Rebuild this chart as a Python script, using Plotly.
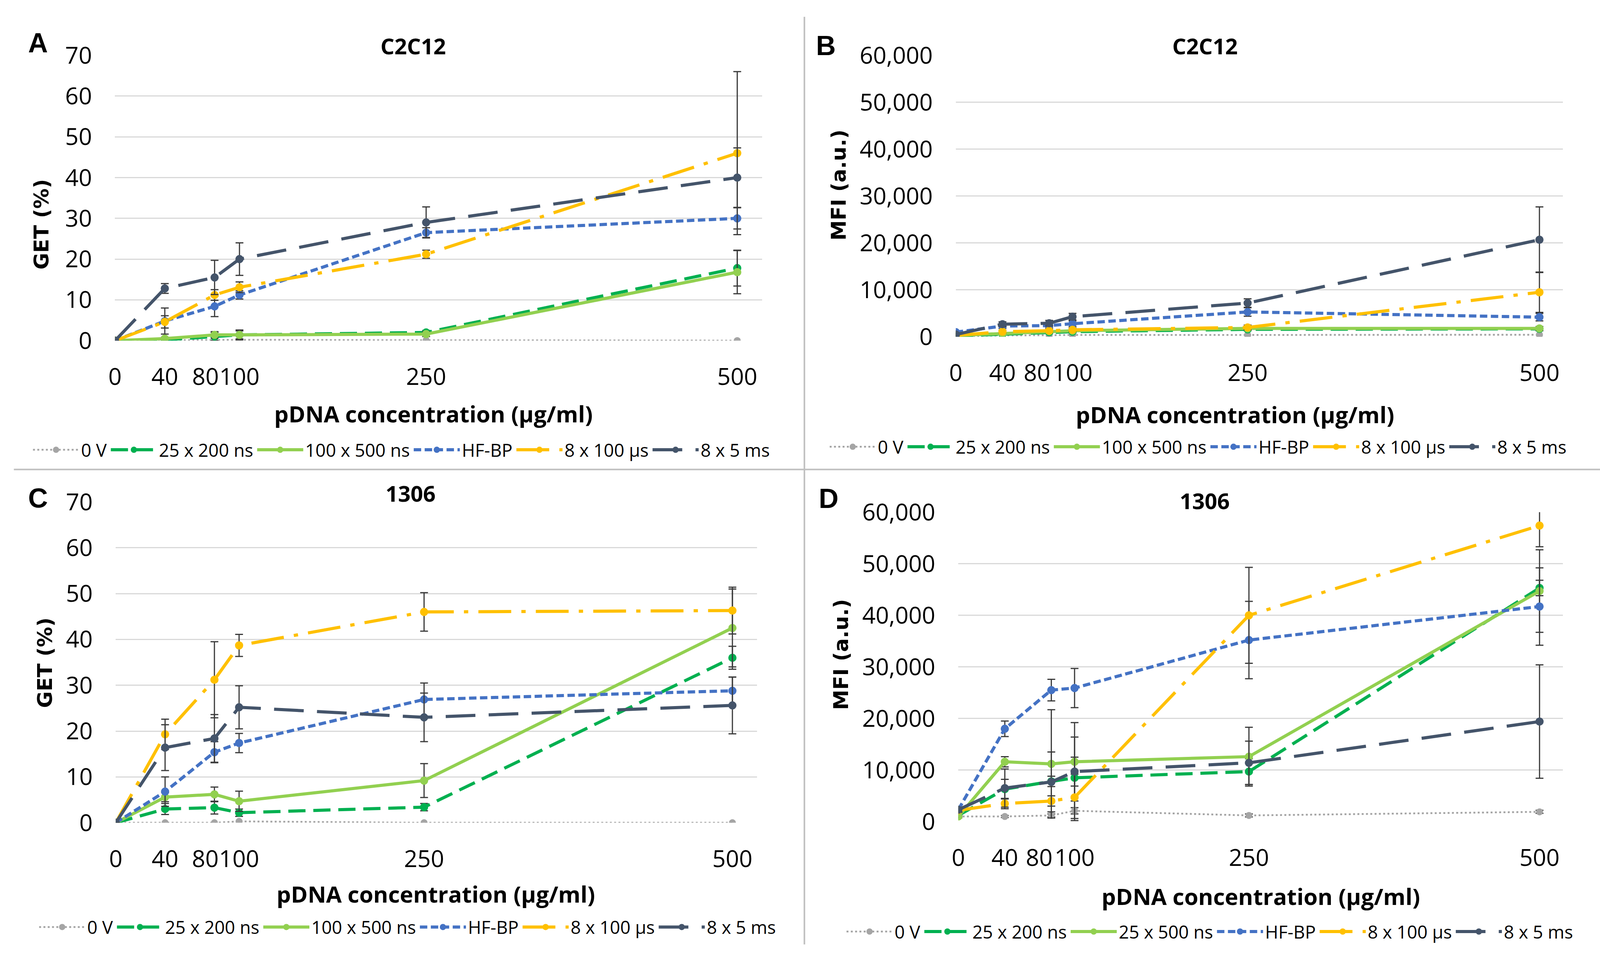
import plotly.graph_objects as go

# reference frame (pixels of the reference picture) and rendered page size
RW, RH = 4410, 2485
W, H = 4096, 2485

# ---------------- data ----------------
conc = [0, 40, 80, 100, 250, 500]
NB = "\u00a0"
# Excel nudges the crowded "80" label left of its tick; trailing no-break spaces reproduce that
x_tick_labels_get = ["0", "40", "80" + NB * 3, "100", "250", "500"]
x_tick_labels_mfi = ["0", "40", "80" + NB * 4, "100", "250", "500"]

names_abc = ["0 V", "25 x 200 ns", "100 x 500 ns", "HF-BP", "8 x 100 µs", "8 x 5 ms"]
names_d = ["0 V", "25 x 200 ns", "25 x 500 ns", "HF-BP", "8 x 100 µs", "8 x 5 ms"]

# Panel A: GET (%) C2C12
a_0v = [0, 0.1, 0.1, 0.2, 0.1, 0.0]
a_25x200 = [0, 0.2, 1.0, 1.4, 2.0, 17.8]
a_100x500 = [0, 0.5, 1.4, 1.4, 1.6, 16.8]
a_hfbp = [0, 4.8, 8.4, 11.2, 26.5, 30.0]
a_8x100 = [0, 4.6, 11.2, 13.1, 21.2, 46.0]
a_8x5 = [0, 12.8, 15.5, 20.0, 29.0, 40.0]
a_0v_err = [0, 0, 0, 0, 0, 0]
a_25x200_err = [0, 0.3, 1.0, 1.2, 0.5, 4.4]
a_100x500_err = [0, 0.3, 0.8, 1.0, 0.6, 5.3]
a_hfbp_err = [0, 3.2, 2.5, 1.0, 1.2, 2.6]
a_8x100_err = [0, 1.5, 1.3, 1.3, 1.0, 20.0]
a_8x5_err = [0, 1.2, 4.2, 4.0, 3.8, 7.3]

# Panel B: MFI (a.u.) C2C12
b_0v = [100, 300, 350, 400, 400, 450]
b_25x200 = [200, 600, 1000, 1100, 1600, 1700]
b_100x500 = [300, 700, 1200, 1300, 1800, 1800]
b_hfbp = [1000, 2300, 2400, 2800, 5300, 4200]
b_8x100 = [300, 1100, 1300, 1500, 2000, 9500]
b_8x5 = [500, 2700, 2900, 4300, 7200, 20700]
b_0v_err = [0, 0, 0, 0, 0, 0]
b_25x200_err = [100, 200, 300, 300, 300, 400]
b_100x500_err = [100, 200, 300, 300, 300, 400]
b_hfbp_err = [300, 500, 500, 600, 900, 800]
b_8x100_err = [200, 300, 300, 400, 500, 4300]
b_8x5_err = [300, 500, 600, 700, 900, 7000]

# Panel C: GET (%) 1306
c_0v = [0, 0, 0, 0.3, 0, 0]
c_25x200 = [0, 3.0, 3.3, 2.2, 3.4, 36.0]
c_100x500 = [0, 5.6, 6.2, 4.7, 9.2, 42.5]
c_hfbp = [0, 6.8, 15.4, 17.4, 26.9, 28.8]
c_8x100 = [0, 19.3, 31.2, 38.7, 46.0, 46.3]
c_8x5 = [0, 16.4, 18.4, 25.2, 23.0, 25.6]
c_0v_err = [0, 0, 0, 0, 0, 0]
c_25x200_err = [0, 1.2, 1.4, 0.8, 0.8, 2.5]
c_100x500_err = [0, 1.0, 1.6, 2.2, 3.7, 8.5]
c_hfbp_err = [0, 3.2, 2.3, 2.1, 3.6, 3.0]
c_8x100_err = [0, 3.3, 8.3, 2.4, 4.2, 5.1]
c_8x5_err = [0, 5.0, 5.2, 4.7, 5.3, 6.2]

# Panel D: MFI (a.u.) 1306
d_0v = [1000, 1000, 1200, 2100, 1200, 1900]
d_25x200 = [1200, 6300, 7800, 8500, 9700, 45300]
d_25x500 = [1000, 11600, 11200, 11600, 12600, 44700]
d_hfbp = [2300, 18000, 25500, 25900, 35200, 41700]
d_8x100 = [2200, 3500, 4000, 4700, 40000, 57400]
d_8x5 = [2300, 6500, 7700, 9700, 11400, 19400]
d_0v_err = [200, 200, 300, 600, 300, 300]
d_25x200_err = [300, 1900, 1000, 7900, 2500, 1500]
d_25x500_err = [300, 1000, 10500, 7600, 5700, 8000]
d_hfbp_err = [500, 1500, 2100, 3800, 7500, 7500]
d_8x100_err = [400, 1000, 1000, 4500, 9300, 4100]
d_8x5_err = [400, 3700, 5800, 2800, 4200, 11000]

# ---------------- styles ----------------
colors = ["#A5A5A5", "#00B050", "#92D050", "#4472C4", "#FFC000", "#44546A"]
dashes = ["5px,6px", "44px,20px", "solid", "19px,9px", "84px,26px,11px,26px", "76px,34px"]
widths = [4.5, 8, 8, 8, 8, 8]

TICK_FONT = "Open Sans"
BOLD_FONT = "Open Sans"
YT_FONT = "DejaVu Sans"
ARIAL = "Liberation Sans"


def fx(p):
    return p / RW


def fy(p):
    return 1 - p / RH


panels = [
    dict(letter="A", title="C2C12", ytitle="GET (%)", box=(300, 2091, 102, 857), yr=[0, 70], dt=10,
         yfmt="", names=names_abc, xlabels=x_tick_labels_get,
         vals=[a_0v, a_25x200, a_100x500, a_hfbp, a_8x100, a_8x5],
         errs=[a_0v_err, a_25x200_err, a_100x500_err, a_hfbp_err, a_8x100_err, a_8x5_err],
         letter_pos=(87, 69), title_pos=(1125, 77), ytitle_pos=(96, 549), xtitle_pos=(1181, 1050),
         legend_pos=(1093, 1146)),
    dict(letter="B", title="C2C12", ytitle="MFI (a.u.)", box=(2627, 4307, 102, 847), yr=[0, 60000], dt=10000,
         yfmt=",", names=names_abc, xlabels=x_tick_labels_mfi,
         vals=[b_0v, b_25x200, b_100x500, b_hfbp, b_8x100, b_8x5],
         errs=[b_0v_err, b_25x200_err, b_100x500_err, b_hfbp_err, b_8x100_err, b_8x5_err],
         letter_pos=(2268, 77), title_pos=(3316, 77), ytitle_pos=(2303, 445), xtitle_pos=(3400, 1052),
         legend_pos=(3298, 1138)),
    dict(letter="C", title="1306", ytitle="GET (%)", box=(302, 2077, 1284, 2133), yr=[0, 70], dt=10,
         yfmt="", names=names_abc, xlabels=x_tick_labels_get,
         vals=[c_0v, c_25x200, c_100x500, c_hfbp, c_8x100, c_8x5],
         errs=[c_0v_err, c_25x200_err, c_100x500_err, c_hfbp_err, c_8x100_err, c_8x5_err],
         letter_pos=(87, 1274), title_pos=(1118, 1261), ytitle_pos=(105, 1710), xtitle_pos=(1188, 2321),
         legend_pos=(1110, 2409)),
    dict(letter="D", title="1306", ytitle="MFI (a.u.)", box=(2634, 4307, 1311, 2130), yr=[0, 60000], dt=10000,
         yfmt=",", names=names_d, xlabels=x_tick_labels_mfi,
         vals=[d_0v, d_25x200, d_25x500, d_hfbp, d_8x100, d_8x5],
         errs=[d_0v_err, d_25x200_err, d_25x500_err, d_hfbp_err, d_8x100_err, d_8x5_err],
         letter_pos=(2275, 1275), title_pos=(3316, 1280), ytitle_pos=(2310, 1688), xtitle_pos=(3471, 2327),
         legend_pos=(3330, 2421)),
]

fig = go.Figure()
annotations = []
layout = {}

for i, p in enumerate(panels):
    n = "" if i == 0 else str(i + 1)
    xa, ya = "x" + n, "y" + n
    lg = "legend" + n
    x0, x1, y0, y1 = p["box"]
    layout["xaxis" + n] = dict(
        domain=[fx(x0), fx(x1)], range=[0, 520], anchor=ya,
        tickmode="array", tickvals=conc, ticktext=p["xlabels"], tickangle=0,
        showgrid=False, zeroline=False, showline=False, ticks="",
        ticklabelstandoff=52,
        tickfont=dict(family=TICK_FONT, size=60, color="#000000"),
    )
    layout["yaxis" + n] = dict(
        domain=[fy(y1), fy(y0)], range=p["yr"], anchor=xa, dtick=p["dt"], tick0=0,
        tickformat=p["yfmt"], showgrid=True, gridcolor="#D9D9D9", gridwidth=3,
        zeroline=False, showline=False, ticks="", ticklabelstandoff=58,
        tickfont=dict(family=TICK_FONT, size=60, color="#000000"),
    )
    lx, lyc = p["legend_pos"]
    layout[lg] = dict(
        orientation="h", x=fx(lx), y=fy(lyc), xanchor="center", yanchor="middle",
        xref="paper", yref="paper",
        font=dict(family=TICK_FONT, size=46, color="#000000"),
        bgcolor="rgba(0,0,0,0)", itemwidth=118, tracegroupgap=0, itemclick=False,
    )
    for k in range(6):
        err = [e if e else None for e in p["errs"][k]]
        has_err = any(e for e in p["errs"][k])
        fig.add_trace(go.Scatter(
            x=conc, y=p["vals"][k], name=p["names"][k], mode="lines+markers",
            xaxis=xa, yaxis=ya, legend=lg,
            line=dict(color=colors[k], width=widths[k], dash=dashes[k]),
            marker=dict(color=colors[k], size=21 if k else 18, symbol="circle"),
            error_y=dict(type="data", array=err, visible=has_err, color="#3A3A3A",
                         thickness=3, width=10),
            cliponaxis=True,
        ))
    annotations += [
        dict(text="<b>%s</b>" % p["letter"], x=fx(p["letter_pos"][0]), y=fy(p["letter_pos"][1]),
             xref="paper", yref="paper", showarrow=False, xanchor="center", yanchor="middle",
             font=dict(family=ARIAL, size=70, color="#000000")),
        dict(text="<b>%s</b>" % p["title"], x=fx(p["title_pos"][0]), y=fy(p["title_pos"][1]),
             xref="paper", yref="paper", showarrow=False, xanchor="center", yanchor="middle",
             font=dict(family=BOLD_FONT, size=56, color="#000000")),
        dict(text="<b>%s</b>" % p["ytitle"], x=fx(p["ytitle_pos"][0]), y=fy(p["ytitle_pos"][1]),
             xref="paper", yref="paper", showarrow=False, xanchor="center", yanchor="middle",
             textangle=-90, font=dict(family=YT_FONT, size=52, color="#000000")),
        dict(text="<b>pDNA concentration (µg/ml)</b>", x=fx(p["xtitle_pos"][0]), y=fy(p["xtitle_pos"][1]),
             xref="paper", yref="paper", showarrow=False, xanchor="center", yanchor="middle",
             font=dict(family=BOLD_FONT, size=58, color="#000000")),
    ]

shapes = [
    dict(type="line", xref="paper", yref="paper", x0=fx(2208), x1=fx(2208), y0=fy(0), y1=fy(2455),
         line=dict(color="#BFBFBF", width=4)),
    dict(type="line", xref="paper", yref="paper", x0=fx(20), x1=1, y0=fy(1198), y1=fy(1198),
         line=dict(color="#BFBFBF", width=4)),
]

fig.update_layout(
    width=W, height=H, margin=dict(l=0, r=0, t=0, b=0),
    paper_bgcolor="white", plot_bgcolor="white",
    annotations=annotations, shapes=shapes, **layout,
)

fig.write_html("out.html", config={"displayModeBar": False},
               post_script="document.body.style.margin='0px';")
